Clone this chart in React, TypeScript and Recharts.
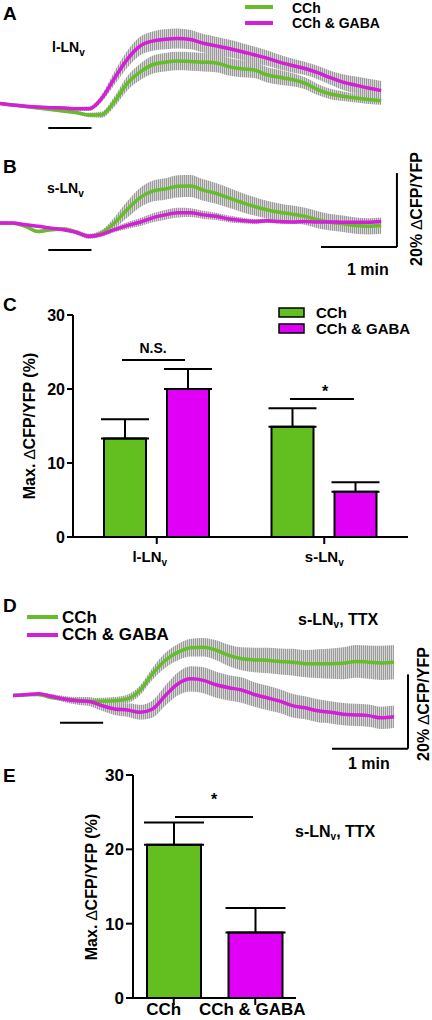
import React from 'react';
import {
  ComposedChart,
  Line,
  Area,
  XAxis,
  YAxis,
  ReferenceLine,
  BarChart,
  Bar,
  ErrorBar,
  Cell,
} from 'recharts';

const FONT = 'Arial, "Liberation Sans", Helvetica, sans-serif';
const GREEN = '#66bd2a';
const MAGENTA = '#d41ed8';
const GREEN_BAR = '#63bf1f';
const MAGENTA_BAR = '#e100f6';

// time in seconds
const time = [0, 10, 20, 30, 40, 50, 60, 70, 80, 90, 100, 110, 120, 130, 140, 150, 160, 170, 180, 190, 200, 210, 220, 230, 240, 250, 260, 270, 280, 290, 300];

// Panel A: l-LNv (% dCFP/YFP)
const aCCh = [0, -0.4, -0.8, -1.2, -1.6, -2.0, -2.4, -3.1, -3.0, 0.5, 5.4, 8.5, 10.5, 11.2, 11.5, 11.4, 11.2, 11.0, 10.0, 9.4, 9.1, 7.8, 7.1, 6.5, 5.5, 3.8, 2.6, 2.0, 1.5, 1.1, 0.8];
const aCChSem = [0.3, 0.3, 0.4, 0.4, 0.4, 0.5, 0.5, 0.6, 0.8, 1.4, 1.9, 2.2, 2.4, 2.5, 2.5, 2.5, 2.5, 2.5, 2.4, 2.3, 2.2, 2.1, 2.0, 1.8, 1.6, 1.5, 1.4, 1.3, 1.2, 1.2, 1.1];
const aGaba = [0, -0.4, -0.7, -0.9, -1.1, -1.2, -1.4, -1.4, 1.4, 6.8, 11.9, 15.5, 16.9, 17.4, 17.6, 17.3, 16.3, 15.6, 14.9, 14.1, 13.2, 12.3, 11.2, 10.3, 9.5, 8.4, 7.0, 5.8, 5.0, 4.2, 3.5];
const aGabaSem = [0.3, 0.3, 0.4, 0.4, 0.4, 0.5, 0.5, 0.6, 1.0, 1.8, 2.3, 2.5, 2.6, 2.7, 2.7, 2.6, 2.5, 2.5, 2.4, 2.3, 2.2, 2.1, 2.0, 1.9, 1.8, 1.8, 1.9, 2.1, 2.3, 2.5, 2.6];

// Panel B: s-LNv
const bCCh = [0, -0.1, -0.9, -2.3, -1.8, -1.6, -2.5, -3.6, -2.7, 0, 3.6, 6.8, 8.6, 9.2, 9.9, 10.0, 8.9, 8.0, 6.8, 5.6, 4.5, 3.6, 2.9, 2.4, 1.8, 0.9, 0.2, -0.2, -0.7, -0.9, -0.7];
const bCChSem = [0.3, 0.3, 0.4, 0.5, 0.5, 0.5, 0.6, 0.7, 0.8, 1.5, 2.2, 2.6, 2.8, 2.9, 3.0, 3.0, 2.9, 2.8, 2.7, 2.6, 2.5, 2.4, 2.4, 2.3, 2.3, 2.3, 2.2, 2.2, 2.2, 2.2, 2.2];
const bGaba = [0, 0, -0.5, -0.9, -1.4, -1.8, -2.5, -3.6, -3.1, -1.8, -0.7, 0.2, 1.4, 2.2, 2.8, 2.8, 2.2, 1.8, 1.1, 0.7, 0.4, 0.6, 0.4, 0.3, 0.4, 0.3, 0.3, 0.2, 0.2, 0.2, 0.4];
const bGabaSem = [0.3, 0.3, 0.3, 0.3, 0.4, 0.4, 0.4, 0.5, 0.5, 0.7, 0.9, 1.1, 1.2, 1.3, 1.3, 1.2, 1.1, 1.0, 0.9, 0.8, 0.7, 0.6, 0.6, 0.6, 0.5, 0.5, 0.5, 0.5, 0.5, 0.5, 0.5];

// Panel D: s-LNv, TTX
const dCCh = [0, 0.2, 0.3, -0.5, -0.9, -1.2, -1.5, -1.5, -1.4, -0.9, 1.4, 5.9, 9.5, 11.7, 12.9, 13.0, 12.2, 10.8, 9.9, 9.6, 9.5, 9.2, 9.0, 8.6, 8.6, 8.6, 8.7, 9.2, 9.0, 8.8, 9.0];
const dCChSem = [0.3, 0.3, 0.4, 0.5, 0.6, 0.7, 0.8, 0.9, 1.0, 1.1, 1.3, 1.6, 2.0, 2.2, 2.4, 2.5, 2.7, 2.9, 3.1, 3.3, 3.4, 3.5, 3.6, 3.7, 3.9, 4.1, 4.3, 4.4, 4.5, 4.6, 4.6];
const dGaba = [0, 0.2, 0.5, -0.2, -0.9, -1.4, -1.6, -2.7, -3.6, -3.9, -4.5, -3.6, 0, 3.2, 4.5, 4.1, 2.9, 2.1, 1.5, 0.3, -0.6, -1.5, -2.7, -3.3, -4.1, -4.5, -5.0, -5.2, -5.4, -6.0, -5.7];
const dGabaSem = [0.3, 0.3, 0.4, 0.6, 0.8, 1.0, 1.2, 1.4, 1.6, 1.8, 2.0, 2.3, 2.7, 3.1, 3.4, 3.5, 3.5, 3.4, 3.4, 3.3, 3.3, 3.2, 3.2, 3.1, 3.1, 3.0, 3.0, 3.0, 3.0, 3.0, 3.0];

// Panel C: max responses
const cellTypes = ['l-LN_v', 's-LN_v'];
const maxCCh = [13.3, 14.9];
const maxCChErr = [2.6, 2.5];
const maxGaba = [20.0, 6.1];
const maxGabaErr = [2.7, 1.3];

// Panel E
const ttxGroups = ['CCh', 'CCh & GABA'];
const ttxMax = [20.6, 8.8];
const ttxErr = [3.0, 3.3];

const yTicks = [0, 10, 20, 30];

type TraceProps = {
  left: number; top: number; width: number; height: number; xMax: number;
  yDomain: [number, number];
  cch: number[]; cchSem: number[]; gaba: number[]; gabaSem: number[];
  stim: [number, number]; stimY: number;
  scaleBar?: { x0: number; x1: number; y0: number; y1: number };
};

function TracePanel(p: TraceProps) {
  const rows = time.map((t, i) => ({
    t,
    cch: p.cch[i],
    gaba: p.gaba[i],
    cchBand: [p.cch[i] - p.cchSem[i], p.cch[i] + p.cchSem[i]],
    gabaBand: [p.gaba[i] - p.gabaSem[i], p.gaba[i] + p.gabaSem[i]],
  }));
  const sb = p.scaleBar;
  return (
    <div style={{ position: 'absolute', left: p.left, top: p.top }}>
      <ComposedChart width={p.width} height={p.height} data={rows} margin={{ top: 0, right: 0, bottom: 0, left: 0 }}>
        <XAxis type="number" dataKey="t" domain={[0, p.xMax]} allowDataOverflow hide />
        <YAxis type="number" domain={p.yDomain} allowDataOverflow hide />
        <Area type="monotone" dataKey="cchBand" stroke="none" fill="url(#semStripes)" fillOpacity={1} isAnimationActive={false} activeDot={false} dot={false} />
        <Area type="monotone" dataKey="gabaBand" stroke="none" fill="url(#semStripes)" fillOpacity={1} isAnimationActive={false} activeDot={false} dot={false} />
        <Line type="monotone" dataKey="cch" stroke={GREEN} strokeWidth={3.5} dot={false} activeDot={false} isAnimationActive={false} />
        <Line type="monotone" dataKey="gaba" stroke={MAGENTA} strokeWidth={3.5} dot={false} activeDot={false} isAnimationActive={false} />
        <ReferenceLine segment={[{ x: p.stim[0], y: p.stimY }, { x: p.stim[1], y: p.stimY }]} stroke="#000" strokeWidth={2} />
        {sb && (
          <ReferenceLine segment={[{ x: sb.x0, y: sb.y0 }, { x: sb.x1, y: sb.y0 }]} stroke="#000" strokeWidth={2} />
        )}
        {sb && (
          <ReferenceLine segment={[{ x: sb.x1, y: sb.y0 }, { x: sb.x1, y: sb.y1 }]} stroke="#000" strokeWidth={2} />
        )}
      </ComposedChart>
    </div>
  );
}

function SubText({ x, y, text, size, sub, anchor = 'start' }: any) {
  const [main, s] = text.split('_');
  return (
    <text x={x} y={y} fontSize={size} textAnchor={anchor} fill="#000" fontWeight="bold" fontFamily={FONT}>
      <tspan>{main}</tspan>
      {s && <tspan fontSize={sub} dy={4}>{s}</tspan>}
    </text>
  );
}

const catShiftC = [-7, 0];
const CatTickC = (props: any) => {
  const { x, y, payload, index } = props;
  return <SubText x={x + (catShiftC[index] || 0)} y={y + 16} text={payload.value} size={15} sub={10} anchor="middle" />;
};

const catShiftE = [-10, -3];
const CatTickE = (props: any) => {
  const { x, y, payload, index } = props;
  return (
    <text x={x + (catShiftE[index] || 0)} y={y + 8} textAnchor="middle" fontSize={17} fontWeight="bold" fontFamily={FONT} fill="#000">
      {payload.value}
    </text>
  );
};

const axisStyle = { stroke: '#000', strokeWidth: 2 };
const tickFont = { fill: '#000', fontSize: 16, fontWeight: 'bold', fontFamily: FONT };

export default function App() {
  const cData = cellTypes.map((c, i) => ({
    name: c,
    cch: maxCCh[i],
    cchErr: [0, maxCChErr[i]],
    gaba: maxGaba[i],
    gabaErr: [0, maxGabaErr[i]],
  }));
  const eData = ttxGroups.map((g, i) => ({ name: g, value: ttxMax[i], err: [0, ttxErr[i]] }));
  const eColors = [GREEN_BAR, MAGENTA_BAR];

  return (
    <div style={{ position: 'absolute', left: 0, top: 0, width: 432, height: 1020, background: '#fff', fontFamily: FONT, overflow: 'hidden' }}>
      <svg width={0} height={0} style={{ position: 'absolute' }}>
        <defs>
          <pattern id="semStripes" patternUnits="userSpaceOnUse" width={2} height={10}>
            <rect x={0} y={0} width={2} height={10} fill="#d6d6d6" />
            <rect x={0} y={0} width={1} height={10} fill="#9a9a9a" />
          </pattern>
        </defs>
      </svg>

      {/* A */}
      <TracePanel left={0} top={0} width={432} height={148} xMax={340} yDomain={[-12, 28]}
        cch={aCCh} cchSem={aCChSem} gaba={aGaba} gabaSem={aGabaSem} stim={[38, 72]} stimY={-6.6} />
      {/* B */}
      <TracePanel left={0} top={149} width={432} height={111} xMax={340} yDomain={[-10, 20]}
        cch={bCCh} cchSem={bCChSem} gaba={bGaba} gabaSem={bGabaSem} stim={[38, 72]} stimY={-7.3}
        scaleBar={{ x0: 252.6, x1: 312.4, y0: -6.5, y1: 13.5 }} />
      {/* D */}
      <TracePanel left={13} top={625} width={419} height={130} xMax={330} yDomain={[-16, 19]}
        cch={dCCh} cchSem={dCChSem} gaba={dGaba} gabaSem={dGabaSem} stim={[37, 71]} stimY={-7.3}
        scaleBar={{ x0: 251.2, x1: 311.1, y0: -14.3, y1: 5.7 }} />

      {/* C */}
      <div style={{ position: 'absolute', left: 0, top: 290 }}>
        <BarChart width={432} height={285} data={cData} margin={{ top: 25, right: 24, bottom: 8, left: 0 }} barGap={21}>
          <XAxis dataKey="name" axisLine={axisStyle} tickLine={axisStyle} tickSize={7} height={30} tick={CatTickC} interval={0} />
          <YAxis domain={[0, 30]} ticks={yTicks} width={73} axisLine={axisStyle} tickLine={axisStyle} tickSize={6} tick={tickFont} interval={0} />
          <Bar dataKey="cch" fill={GREEN_BAR} stroke="#000" strokeWidth={2} barSize={42} isAnimationActive={false}>
            <ErrorBar dataKey="cchErr" width={24} stroke="#000" strokeWidth={2} direction="y" />
          </Bar>
          <Bar dataKey="gaba" fill={MAGENTA_BAR} stroke="#000" strokeWidth={2} barSize={42} isAnimationActive={false}>
            <ErrorBar dataKey="gabaErr" width={24} stroke="#000" strokeWidth={2} direction="y" />
          </Bar>
        </BarChart>
      </div>

      {/* E */}
      <div style={{ position: 'absolute', left: 0, top: 760 }}>
        <BarChart width={432} height={260} data={eData} margin={{ top: 15, right: 136, bottom: 0, left: 0 }}>
          <XAxis dataKey="name" axisLine={axisStyle} tickLine={axisStyle} tickSize={7} height={22} tick={CatTickE} interval={0} />
          <YAxis domain={[0, 30]} ticks={yTicks} width={133} axisLine={axisStyle} tickLine={axisStyle} tickSize={7} tick={{ ...tickFont, fontSize: 17 }} interval={0} />
          <Bar dataKey="value" stroke="#000" strokeWidth={2} barSize={54} isAnimationActive={false}>
            {eData.map((d, i) => (
              <Cell key={d.name} fill={eColors[i]} />
            ))}
            <ErrorBar dataKey="err" width={30} stroke="#000" strokeWidth={2} direction="y" />
          </Bar>
        </BarChart>
      </div>

      {/* annotations */}
      <svg width={432} height={1020} style={{ position: 'absolute', left: 0, top: 0, pointerEvents: 'none' }} fontFamily={FONT} fontWeight="bold">
        {/* panel letters */}
        <text x={3} y={20} fontSize={19}>A</text>
        <text x={3} y={173} fontSize={19}>B</text>
        <text x={3} y={311} fontSize={19}>C</text>
        <text x={3} y={612} fontSize={19}>D</text>
        <text x={3} y={782} fontSize={19}>E</text>

        {/* A legend */}
        <line x1={245} y1={7} x2={273} y2={7} stroke={GREEN} strokeWidth={4} />
        <text x={292} y={13} fontSize={14}>CCh</text>
        <line x1={245} y1={23} x2={273} y2={23} stroke={MAGENTA} strokeWidth={4} />
        <text x={292} y={28} fontSize={14}>CCh &amp; GABA</text>

        <SubText x={52} y={52} text="l-LN_v" size={14} sub={10} />
        <SubText x={47} y={193} text="s-LN_v" size={14} sub={10} />

        {/* scale bar labels B */}
        <text x={347} y={275} fontSize={16}>1 min</text>
        <text transform="translate(422,209) rotate(-90)" textAnchor="middle" fontSize={16}>20% <tspan fontWeight="normal">∆</tspan>CFP/YFP</text>

        {/* C legend */}
        <rect x={279} y={308} width={25} height={9} fill={GREEN_BAR} stroke="#000" strokeWidth={1.5} />
        <text x={316} y={318} fontSize={15}>CCh</text>
        <rect x={279} y={324} width={25} height={9} fill={MAGENTA_BAR} stroke="#000" strokeWidth={1.5} />
        <text x={316} y={334} fontSize={15}>CCh &amp; GABA</text>

        {/* C y label */}
        <text transform="translate(35,426) rotate(-90)" textAnchor="middle" fontSize={16}>Max. <tspan fontWeight="normal">∆</tspan>CFP/YFP (%)</text>

        {/* C significance */}
        <text x={153} y={353} fontSize={14} textAnchor="middle">N.S.</text>
        <line x1={122} y1={360} x2={185} y2={360} stroke="#000" strokeWidth={2} />
        <text x={325} y={397} fontSize={16} textAnchor="middle">*</text>
        <line x1={290} y1={399} x2={354} y2={399} stroke="#000" strokeWidth={2} />

        {/* D legend */}
        <line x1={27} y1={617} x2={58} y2={617} stroke={GREEN} strokeWidth={4} />
        <text x={62} y={623} fontSize={17}>CCh</text>
        <line x1={27} y1={635} x2={58} y2={635} stroke={MAGENTA} strokeWidth={4} />
        <text x={62} y={640} fontSize={17}>CCh &amp; GABA</text>
        <text x={298} y={625} fontSize={16} fill="#000">s-LN<tspan fontSize={10} dy={3}>v</tspan><tspan dy={-3}>, TTX</tspan></text>

        {/* D scale labels */}
        <text x={348} y={769} fontSize={16}>1 min</text>
        <text transform="translate(429,704) rotate(-90)" textAnchor="middle" fontSize={16}>20% <tspan fontWeight="normal">∆</tspan>CFP/YFP</text>

        {/* E annotations */}
        <text transform="translate(97,887) rotate(-90)" textAnchor="middle" fontSize={16}>Max. <tspan fontWeight="normal">∆</tspan>CFP/YFP (%)</text>
        <text x={214} y={805} fontSize={16} textAnchor="middle">*</text>
        <line x1={175} y1={817} x2={253} y2={817} stroke="#000" strokeWidth={2} />
        <text x={295} y={837} fontSize={16}>s-LN<tspan fontSize={10} dy={3}>v</tspan><tspan dy={-3}>, TTX</tspan></text>
      </svg>
    </div>
  );
}
